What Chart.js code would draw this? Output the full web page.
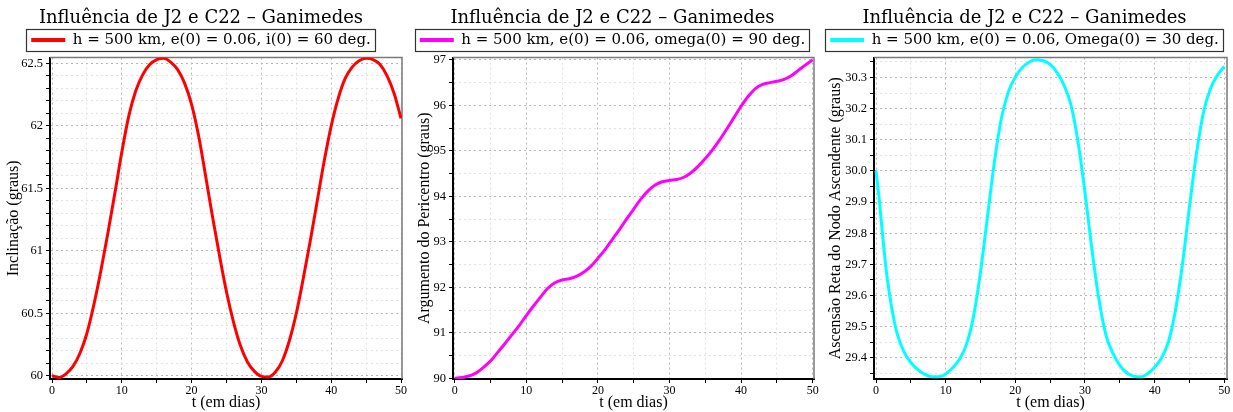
<!DOCTYPE html>
<html><head><meta charset="utf-8">
<script src="https://cdn.jsdelivr.net/npm/chart.js@4.4.1/dist/chart.umd.min.js"></script>
<style>
html,body{margin:0;padding:0;background:#fff;}
.panel{position:absolute;top:0;width:411px;height:412px;}
canvas{display:block;}
</style></head><body>
<div class="panel" style="left:0px"><canvas id="c1" width="411" height="412"></canvas></div>
<div class="panel" style="left:411px"><canvas id="c2" width="411" height="412"></canvas></div>
<div class="panel" style="left:822px"><canvas id="c3" width="411" height="412"></canvas></div>
<script>
// ---- shared text ----
const titleText = 'Influência de J2 e C22 – Ganimedes';
const xTitle = 't (em dias)';
const xMajor = [0, 10, 20, 30, 40, 50];
const xGrid = [0, 5, 10, 15, 20, 25, 30, 35, 40, 45, 50];

// ---- panel 1: inclination ----
const incLegend = 'h = 500 km, e(0) = 0.06, i(0) = 60 deg.';
const incYTitle = 'Inclinação (graus)';
const incT = [0,1,2,3,4,5,6,7,8,9,10,11,12,13,14,15,16,17,18,19,20,21,22,23,24,25,26,27,28,29,30,31,32,33,34,35,36,37,38,39,40,41,42,43,44,45,46,47,48,49,50];
const incVal = [60.0,59.986,60.015,60.075,60.18,60.34,60.57,60.84,61.14,61.46,61.79,62.08,62.28,62.41,62.49,62.53,62.54,62.51,62.45,62.34,62.17,61.92,61.6,61.27,60.96,60.67,60.43,60.24,60.11,60.035,59.995,59.99,60.03,60.12,60.28,60.5,60.78,61.08,61.4,61.72,62.0,62.22,62.38,62.47,62.52,62.54,62.53,62.49,62.4,62.26,62.06];
const incGrid = [60,60.1,60.2,60.3,60.4,60.5,60.6,60.7,60.8,60.9,61,61.1,61.2,61.3,61.4,61.5,61.6,61.7,61.8,61.9,62,62.1,62.2,62.3,62.4,62.5];
const incMajor = [60, 60.5, 61, 61.5, 62, 62.5];
const incLabels = ['60', '60.5', '61', '61.5', '62', '62.5'];

// ---- panel 2: argument of pericentre ----
const argLegend = 'h = 500 km, e(0) = 0.06, omega(0) = 90 deg.';
const argYTitle = 'Argumento do Pericentro (graus)';
const argT = [0,1,2,3,4,5,6,7,8,9,10,11,12,13,14,15,16,17,18,19,20,21,22,23,24,25,26,27,28,29,30,31,32,33,34,35,36,37,38,39,40,41,42,43,44,45,46,47,48,49,50];
const argVal = [90.0,90.02,90.05,90.12,90.24,90.38,90.57,90.76,90.96,91.16,91.38,91.59,91.79,91.98,92.1,92.16,92.19,92.24,92.33,92.46,92.64,92.83,93.05,93.27,93.5,93.72,93.94,94.12,94.25,94.32,94.35,94.37,94.42,94.52,94.66,94.83,95.02,95.24,95.48,95.73,95.98,96.2,96.37,96.46,96.5,96.53,96.57,96.65,96.77,96.89,97.0];
const argGrid = [90,90.5,91,91.5,92,92.5,93,93.5,94,94.5,95,95.5,96,96.5,97];
const argMajor = [90, 91, 92, 93, 94, 95, 96, 97];
const argLabels = ['90', '91', '92', '93', '94', '95', '96', '97'];

// ---- panel 3: right ascension of ascending node ----
const nodeLegend = 'h = 500 km, e(0) = 0.06, Omega(0) = 30 deg.';
const nodeYTitle = 'Ascensão Reta do Nodo Ascendente (graus)';
const nodeT = [0,0.5,1,1.5,2,2.5,3,4,5,6,7,8,9,10,11,12,13,14,15,16,17,18,19,20,21,22,23,24,25,26,27,28,29,30,31,32,33,34,35,36,37,38,39,40,41,42,43,44,45,46,47,48,49,50];
const nodeVal = [30.0,29.9,29.78,29.675,29.595,29.53,29.48,29.42,29.385,29.362,29.347,29.339,29.339,29.348,29.368,29.396,29.444,29.533,29.676,29.853,30.03,30.169,30.254,30.302,30.332,30.35,30.357,30.354,30.342,30.316,30.275,30.211,30.093,29.931,29.748,29.588,29.474,29.415,29.376,29.352,29.341,29.339,29.349,29.37,29.4,29.453,29.554,29.701,29.885,30.055,30.187,30.263,30.307,30.336];
const nodeGrid = [29.35,29.4,29.45,29.5,29.55,29.6,29.65,29.7,29.75,29.8,29.85,29.9,29.95,30.0,30.05,30.1,30.15,30.2,30.25,30.3,30.35];
const nodeMajor = [29.4,29.5,29.6,29.7,29.8,29.9,30.0,30.1,30.2,30.3];
const nodeLabels = ['29.4','29.5','29.6','29.7','29.8','29.9','30.0','30.1','30.2','30.3'];

const SERIF = "'DejaVu Serif', serif";
const TIMES = "'Liberation Serif', serif";

function findIdx(arr, v) {
  for (let i = 0; i < arr.length; i++) if (Math.abs(arr[i] - v) < 1e-6) return i;
  return -1;
}

const framePlugin = {
  id: 'frame',
  beforeDatasetsDraw(chart) {
    const {ctx, chartArea: a} = chart;
    ctx.save();
    ctx.strokeStyle = '#7a7a7a';
    ctx.lineWidth = 1.5;
    ctx.beginPath();
    ctx.moveTo(a.left, a.top);
    ctx.lineTo(a.right, a.top);
    ctx.lineTo(a.right, a.bottom);
    ctx.stroke();
    ctx.restore();
  },
  afterDraw(chart) {
    const lg = chart.legend;
    if (!lg || !lg.legendHitBoxes || !lg.legendHitBoxes.length) return;
    const hb = lg.legendHitBoxes[0];
    const ctx = chart.ctx;
    ctx.save();
    ctx.strokeStyle = '#333';
    ctx.lineWidth = 1.2;
    ctx.strokeRect(Math.round(hb.left) - 4.5, Math.round(hb.top) - 3.5, Math.round(hb.width) + 9, Math.round(hb.height) + 7);
    ctx.restore();
  }
};

function makePanel(id, p) {
  const data = p.t.map((t, i) => ({x: t, y: p.v[i]}));
  new Chart(document.getElementById(id), {
    type: 'line',
    data: {datasets: [{
      label: p.legend, data, borderColor: p.color, backgroundColor: p.color,
      borderWidth: 3, pointRadius: 0, fill: false, cubicInterpolationMode: 'monotone'
    }]},
    options: {
      responsive: false, animation: false,
      layout: {padding: {left: 0, right: p.padRight, top: 0, bottom: 0}},
      plugins: {
        title: {display: true, text: titleText, color: '#000',
          font: {family: SERIF, size: 18, weight: 'normal'}, padding: {top: 8, bottom: 0}},
        legend: {display: true, position: 'top',
          labels: {color: '#000', font: {family: SERIF, size: 15}, usePointStyle: true,
            pointStyle: 'line', pointStyleWidth: 34, padding: 3,
            generateLabels(chart) {
              return Chart.defaults.plugins.legend.labels.generateLabels(chart).map(l => Object.assign(l, {lineWidth: 4}));
            }}},
        tooltip: {enabled: false}
      },
      scales: {
        x: {type: 'linear', min: p.xMin, max: p.xMax,
          afterBuildTicks(s) { s.ticks = xGrid.map(v => ({value: v})); },
          afterFit(s) { s.height = 33; },
          ticks: {autoSkip: false, maxRotation: 0, color: '#000', padding: 1,
            font: {family: TIMES, size: 12},
            callback: v => (findIdx(xMajor, v) >= 0 ? String(v) : '')},
          grid: {color: c => (findIdx(xMajor, c.tick.value) >= 0 ? '#b8b8b8' : '#e2e2e2'),
            lineWidth: 1, tickLength: 4, tickColor: '#000', tickWidth: 1},
          border: {color: '#000', width: 2, dash: [2, 3]},
          title: {display: true, text: xTitle, color: '#000', font: {family: TIMES, size: 16}, padding: 0}
        },
        y: {type: 'linear', min: p.yMin, max: p.yMax,
          afterBuildTicks(s) { s.ticks = p.grid.map(v => ({value: v})); },
          afterFit(s) { s.width = p.axisW; },
          ticks: {autoSkip: false, color: '#000', padding: 3,
            font: {family: TIMES, size: 12.5},
            callback: v => { const k = findIdx(p.major, v); return k >= 0 ? p.labels[k] : ''; }},
          grid: {color: c => (findIdx(p.major, c.tick.value) >= 0 ? '#b8b8b8' : '#e2e2e2'),
            lineWidth: 1, tickLength: 4, tickColor: '#000', tickWidth: 1},
          border: {color: '#000', width: 2, dash: [2, 3]},
          title: {display: true, text: p.yTitle, color: '#000', font: {family: TIMES, size: 16}, padding: {top: 4, bottom: 0}}
        }
      }
    },
    plugins: [framePlugin]
  });
}

makePanel('c1', {t: incT, v: incVal, color: '#ff0000', legend: incLegend, yTitle: incYTitle,
  grid: incGrid, major: incMajor, labels: incLabels, yMin: 59.974, yMax: 62.546,
  xMin: -0.29, xMax: 50.14, axisW: 50, padRight: 9});
makePanel('c2', {t: argT, v: argVal, color: '#ff00ff', legend: argLegend, yTitle: argYTitle,
  grid: argGrid, major: argMajor, labels: argLabels, yMin: 89.985, yMax: 97.05,
  xMin: -0.24, xMax: 50.18, axisW: 42, padRight: 8});
makePanel('c3', {t: nodeT, v: nodeVal, color: '#00ffff', legend: nodeLegend, yTitle: nodeYTitle,
  grid: nodeGrid, major: nodeMajor, labels: nodeLabels, yMin: 29.332, yMax: 30.364,
  xMin: -0.29, xMax: 50.39, axisW: 52, padRight: 6});
</script>
</body></html>
